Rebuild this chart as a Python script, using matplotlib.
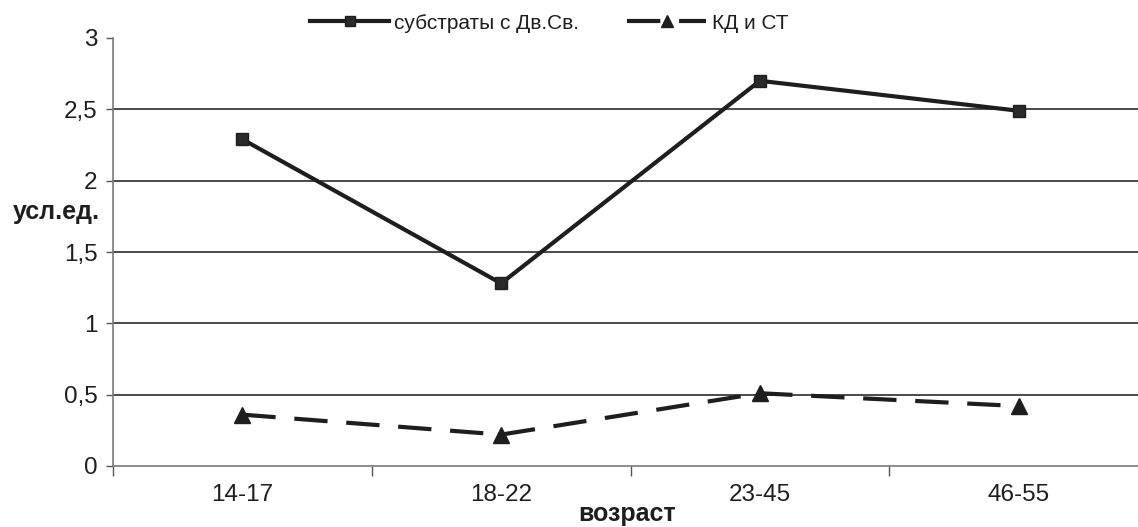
import matplotlib
matplotlib.use("Agg")
import matplotlib.pyplot as plt
from matplotlib.ticker import FuncFormatter

# data
age_groups = ["14-17", "18-22", "23-45", "46-55"]
substrates = [2.29, 1.28, 2.70, 2.49]   # субстраты с Дв.Св.
kd_st = [0.36, 0.22, 0.51, 0.42]        # КД и СТ
y_ticks = [0, 0.5, 1, 1.5, 2, 2.5, 3]

INK = "#1e1e1e"
plt.rcParams.update({
    "font.family": ["Liberation Sans", "DejaVu Sans"],
    "font.size": 17.5,
    "text.color": INK,
    "xtick.color": "#555555",
    "ytick.color": "#555555",
    "xtick.labelcolor": INK,
    "ytick.labelcolor": INK,
})

fig = plt.figure(figsize=(11.38, 5.27), dpi=100)
W, H = 1138, 527
ax = fig.add_axes([113 / W, 61 / H, 1035 / W, 428 / H])

x = list(range(len(age_groups)))
ax.plot(x, substrates, "-", color=INK, lw=3, marker="s", markersize=9,
        markerfacecolor="#2a2a2a", markeredgecolor=INK,
        label="субстраты с Дв.Св.", clip_on=False, zorder=3)
ax.plot(x, kd_st, color=INK, lw=3, dashes=(8, 4.5), marker="^",
        markersize=11, markerfacecolor=INK, markeredgecolor=INK,
        label="КД и СТ", clip_on=False, zorder=3)

ax.set_xlim(-0.5, 3.5)
ax.set_ylim(0, 3)
ax.set_yticks(y_ticks)
ax.yaxis.set_major_formatter(FuncFormatter(lambda v, _: f"{v:g}".replace(".", ",")))
for v in y_ticks[1:-1]:
    ax.axhline(v, color="#2b2b2b", lw=1.2, zorder=1)

# category labels sit between the boundary ticks
ax.set_xticks([i + 0.5 for i in range(-1, len(age_groups))], minor=False)
ax.set_xticklabels([])
ax.set_xticks(x, minor=True)
ax.set_xticklabels(age_groups, minor=True)
ax.tick_params(axis="x", which="major", length=7, width=1, direction="out")
ax.tick_params(axis="x", which="minor", length=0, pad=13)
ax.tick_params(axis="y", length=5, width=1, direction="out", pad=6)

for side in ("top", "right"):
    ax.spines[side].set_visible(False)
for side in ("left", "bottom"):
    ax.spines[side].set_color("#7a7a7a")
    ax.spines[side].set_linewidth(1.2)

fig.text(56 / W, 1 - 212 / H, "усл.ед.", ha="center", va="center",
         fontsize=18, fontweight="bold")
fig.text(627 / W, 1 - 514 / H, "возраст", ha="center", va="center",
         fontsize=18, fontweight="bold")

fig.legend(loc="center", bbox_to_anchor=(549 / W, 1 - 23 / H), ncol=2,
           frameon=False, handlelength=3.8, columnspacing=2.3,
           handletextpad=0.25, fontsize=15, markerscale=0.85)

fig.savefig("out.png", dpi=100)
